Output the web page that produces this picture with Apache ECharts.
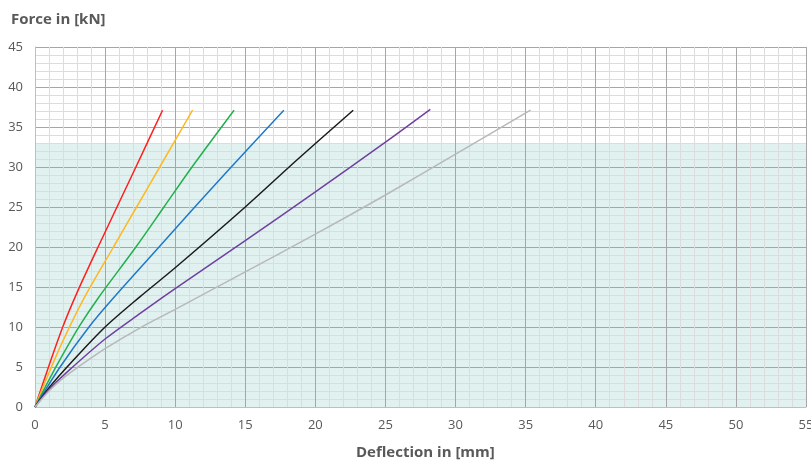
<!DOCTYPE html>
<html><head><meta charset="utf-8">
<script src="https://cdn.jsdelivr.net/npm/echarts@6/dist/echarts.min.js"></script>
<style>html,body{margin:0;padding:0;background:#fff;overflow:hidden}#c{width:811px;height:461px}</style>
</head><body><div id="c"></div>
<script>
// data: [deflection mm, force kN]
const redCurve    = [[0,0],[1,5.2],[2,10.1],[3,14.3],[4.5,20],[7.2,30],[9.1,37.1]];
const yellowCurve = [[0,0],[1,4.3],[2,8.3],[3.5,13.6],[5.6,20],[7.25,25],[8.9,30],[11.24,37.1]];
const greenCurve  = [[0,0],[1,3.4],[2,6.6],[3.2,10.2],[4.5,13.6],[7.2,20],[9.2,25],[11.2,30],[14.2,37.1]];
const blueCurve   = [[0,0],[1.79,5],[3.85,10],[5.48,13.4],[8.85,20],[11.4,25],[13.9,29.8],[17.75,37.1]];
const blackCurve  = [[0,0],[1,2.4],[2.5,5.4],[5,10.0],[7.5,13.8],[10,17.4],[15,25],[18.7,30.9],[22.7,37.1]];
const purpleCurve = [[0,0],[1,2.2],[2.5,4.7],[5,8.5],[7.5,11.7],[10,14.8],[15,20.8],[20,26.9],[25,33.1],[28.2,37.2]];
const greyCurve   = [[0,0],[1,2.0],[2,3.6],[3,4.9],[5,7.3],[7.5,9.9],[10,12.2],[15,16.9],[20,21.6],[25,26.5],[30,31.6],[35.35,37.1]];
const shadeRange  = [0, 33];
const xTitle = 'Deflection in [mm]';
const yTitle = 'Force in [kN]';

const curves = [
  [redCurve, '#ff1f1f'],
  [yellowCurve, '#ffb822'],
  [greenCurve, '#22b04c'],
  [blueCurve, '#1f78c8'],
  [blackCurve, '#1a1a1a'],
  [purpleCurve, '#7040a0'],
  [greyCurve, '#b8b8b8']
];
const FONT = 'Open Sans';
const chart = echarts.init(document.getElementById('c'), null, {renderer:'canvas', width:811, height:461});
const series = curves.map(([d,c]) => ({
  type:'line', data:d, smooth:0.3, showSymbol:false, symbol:'none',
  lineStyle:{color:c, width:1.5}, z:5, animation:false
}));
series.unshift({
  type:'line', data:[], z:1, silent:true, animation:false,
  markArea:{silent:true, z:1, itemStyle:{color:'#e0f1f0'}, data:[[{yAxis:shadeRange[0], xAxis:0},{yAxis:shadeRange[1], xAxis:55}]]}
});
const axisCommon = {
  type:'value', interval:5, z:2,
  axisLine:{show:true, lineStyle:{color:'#bfbfbf', width:1}},
  axisTick:{show:false},
  splitLine:{show:true, lineStyle:{color:'#a6a6a6', width:1}},
  minorTick:{show:false, splitNumber:5},
  minorSplitLine:{show:true, lineStyle:{color:'#dcdcdc', width:1}}
};
chart.setOption({
  animation:false,
  grid:{left:35, top:47, width:771, height:360, containLabel:false, outerBoundsMode:'none'},
  title:[
    {text:yTitle, left:6, top:7, textStyle:{fontFamily:FONT, fontSize:15, fontWeight:'bold', color:'#595959'}},
    {text:xTitle, left:351, top:440, textStyle:{fontFamily:FONT, fontSize:15, fontWeight:'bold', color:'#595959'}}
  ],
  xAxis:Object.assign({}, axisCommon, {min:0, max:55,
    axisLabel:{fontFamily:FONT, fontSize:13, color:'#595959', margin:12}}),
  yAxis:Object.assign({}, axisCommon, {min:0, max:45,
    axisLabel:{fontFamily:FONT, fontSize:13, color:'#595959', margin:12}}),
  series:series
});
</script></body></html>
